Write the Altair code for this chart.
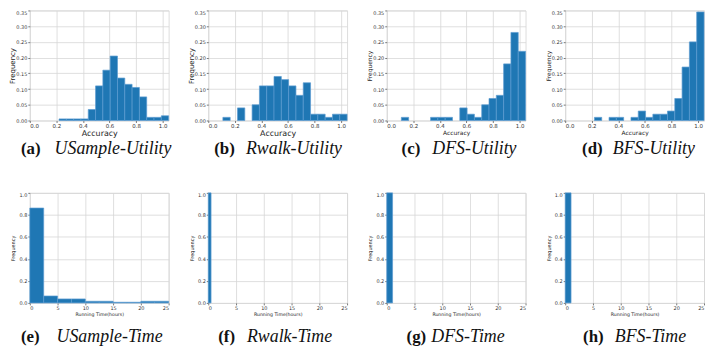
import altair as alt
import pandas as pd

# ---------------- data ----------------
tags = ["(a)", "(b)", "(c)", "(d)", "(e)", "(f)", "(g)", "(h)"]
names = ["USample-Utility", "Rwalk-Utility", "DFS-Utility", "BFS-Utility",
         "USample-Time", "Rwalk-Time", "DFS-Time", "BFS-Time"]

acc_bin_width = 0.055
usample_acc_start = 0.22
usample_acc = [0.005, 0.005, 0.005, 0.005, 0.035, 0.11, 0.16, 0.205, 0.135,
               0.115, 0.105, 0.075, 0.01, 0.01, 0.015]
rwalk_acc_start = 0.11
rwalk_acc = [0.01, 0, 0.04, 0, 0.05, 0.11, 0.11, 0.14, 0.13, 0.11, 0.08,
             0.12, 0.02, 0.02, 0.01, 0.02, 0.02]
dfs_acc_start = 0.11
dfs_acc = [0.01, 0, 0, 0, 0.01, 0.01, 0.01, 0, 0.04, 0.02, 0.01, 0.05,
           0.07, 0.08, 0.18, 0.28, 0.22]
bfs_acc_start = 0.22
bfs_acc = [0.01, 0, 0.01, 0.01, 0, 0.01, 0.03, 0.01, 0.02, 0.02, 0.03,
           0.07, 0.17, 0.25, 0.345]

usample_time_width = 2.5
usample_time = [0.862, 0.063, 0.036, 0.036, 0.015, 0.015, 0.006, 0.006, 0.015, 0.015]
rwalk_time_width = 0.5
rwalk_time = [1.0]
dfs_time_width = 1.05
dfs_time = [1.0]
bfs_time_width = 1.05
bfs_time = [1.0]

acc_ticks = [0.0, 0.2, 0.4, 0.6, 0.8, 1.0]
acc_freq_ticks = [0.0, 0.05, 0.10, 0.15, 0.20, 0.25, 0.30, 0.35]
time_ticks = [0, 5, 10, 15, 20, 25]
time_freq_ticks = [0.0, 0.2, 0.4, 0.6, 0.8, 1.0]


def hist_df(start, width, freqs):
    rows = []
    for i, f in enumerate(freqs):
        if f > 0:
            rows.append({"x0": start + i * width, "x1": start + (i + 1) * width, "f": f})
    return pd.DataFrame(rows)


# ---------------- style ----------------
W, H = 140, 111
BAR = "#1f77b4"
EDGE = "#5b9bd0"

# caption offsets (relative to plot left edge)
cap_tag_x = [-9, 6, 15, 17, -9, 10, 20, 18]
cap_name_x = [25, 38, 46, 48, 27, 39, 45, 50]


def panel(i, df, xdom, xticks, xfmt, ydom, yticks, yfmt, xtitle, xt_size, yt_size,
          xlab_size, ylab_size, y_ext, cap_dy):
    xs = alt.Scale(domain=xdom, nice=False, zero=False)
    ys = alt.Scale(domain=ydom, nice=False)
    top_val = ydom[1] - 1e-9
    bars = alt.Chart(df).mark_rect(color=BAR, stroke=EDGE, strokeWidth=0.7).encode(
        x=alt.X("x0:Q", scale=xs, axis=alt.Axis(
            values=xticks, format=xfmt, title=xtitle, titleFontSize=xt_size,
            titleFont="DejaVu Sans", titleFontWeight="normal", titleColor="#222",
            titlePadding=1, labelFontSize=xlab_size, labelFont="DejaVu Sans",
            labelColor="#333", labelPadding=1, tickSize=2, tickColor="#777",
            domain=False, gridColor="#d6d6d6", gridWidth=0.8)),
        x2="x1:Q",
        y=alt.Y("f:Q", scale=ys, axis=alt.Axis(
            values=yticks, format=yfmt, title="Frequency", titleFontSize=yt_size,
            titleFont="DejaVu Sans", titleFontWeight="normal", titleColor="#222",
            titlePadding=0, labelFontSize=ylab_size, labelFont="DejaVu Sans",
            labelColor="#333", labelPadding=1, tickSize=2, tickColor="#777",
            labelBaseline={"condition": {"test": f"datum.value >= {top_val}", "value": "top"},
                           "value": "middle"},
            domain=False, gridColor="#d6d6d6", gridWidth=0.8,
            minExtent=y_ext, maxExtent=y_ext)),
        y2=alt.datum(0),
    )
    tag = alt.Chart(pd.DataFrame({"t": [tags[i]]})).mark_text(
        font="Liberation Serif", fontWeight="bold", fontSize=17, align="left",
        baseline="middle", color="#111").encode(
        x=alt.value(cap_tag_x[i]), y=alt.value(H + cap_dy), text="t:N")
    name = alt.Chart(pd.DataFrame({"t": [names[i]]})).mark_text(
        font="Liberation Serif", fontStyle="italic", fontSize=18, align="left",
        baseline="middle", color="#111").encode(
        x=alt.value(cap_name_x[i]), y=alt.value(H + cap_dy), text="t:N")
    return alt.layer(bars, tag, name).properties(width=W, height=H)


acc_dom = [0, 1.045]
panels = [
    panel(0, hist_df(usample_acc_start, acc_bin_width, usample_acc), acc_dom, acc_ticks, ".1f",
          [0, 0.35], acc_freq_ticks, ".2f", "Accuracy", 8, 7, 5.5, 5, 14, 29),
    panel(1, hist_df(rwalk_acc_start, acc_bin_width, rwalk_acc), acc_dom, acc_ticks, ".1f",
          [0, 0.35], acc_freq_ticks, ".2f", "Accuracy", 8, 7, 5.5, 5, 14, 29),
    panel(2, hist_df(dfs_acc_start, acc_bin_width, dfs_acc), acc_dom, acc_ticks, ".1f",
          [0, 0.35], acc_freq_ticks, ".2f", "Accuracy", 6, 6, 5.5, 5, 14, 29),
    panel(3, hist_df(bfs_acc_start, acc_bin_width, bfs_acc), acc_dom, acc_ticks, ".1f",
          [0, 0.35], acc_freq_ticks, ".2f", "Accuracy", 6, 6, 5.5, 5, 14, 29),
    panel(4, hist_df(0, usample_time_width, usample_time), [0, 25], time_ticks, "d",
          [0, 1.0], time_freq_ticks, ".1f", "Running Time(hours)", 4.7, 5, 5, 5, 14, 34),
    panel(5, hist_df(0, rwalk_time_width, rwalk_time), [0, 25], time_ticks, "d",
          [0, 1.0], time_freq_ticks, ".1f", "Running Time(hours)", 4.7, 5, 5, 5, 14, 34),
    panel(6, hist_df(0, dfs_time_width, dfs_time), [0, 25], time_ticks, "d",
          [0, 1.0], time_freq_ticks, ".1f", "Running Time(hours)", 4.7, 5, 5, 5, 14, 34),
    panel(7, hist_df(0, bfs_time_width, bfs_time), [0, 25], time_ticks, "d",
          [0, 1.0], time_freq_ticks, ".1f", "Running Time(hours)", 4.7, 5, 5, 5, 14, 34),
]

chart = alt.concat(
    *panels, columns=4, spacing={"row": 73, "column": 40}, bounds="flush"
).properties(
    padding={"left": 0, "top": 0, "right": 0, "bottom": 0}
).configure_view(stroke="#888", strokeWidth=1).configure(background="white")

chart.save("out.html", embed_options={"renderer": "svg", "actions": False})
